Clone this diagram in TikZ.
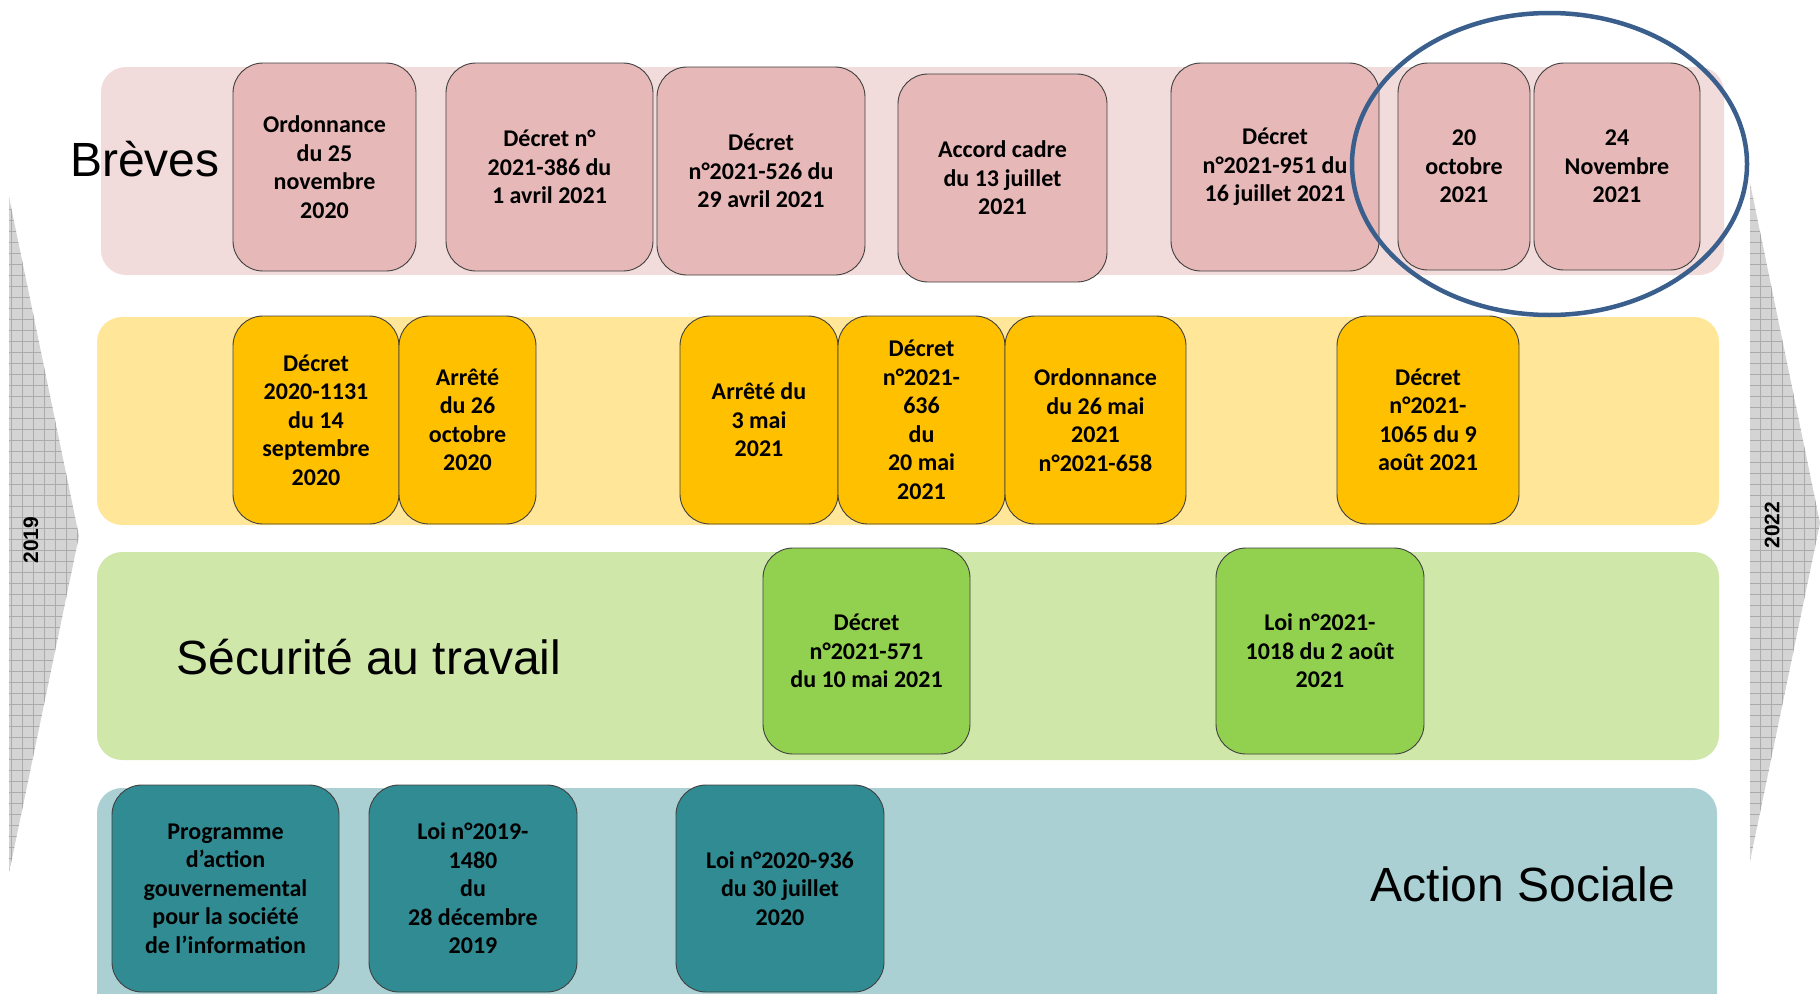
\documentclass[tikz,border=0pt]{standalone}
\usepackage{fontspec}
\usetikzlibrary{shapes.geometric}
\setmainfont{Carlito}
\newfontfamily\arialf{Liberation Sans}
\definecolor{cPinkLane}{HTML}{F2DCDB}
\definecolor{cPinkBox}{HTML}{E6B8B7}
\definecolor{cYelLane}{HTML}{FFE699}
\definecolor{cYelBox}{HTML}{FFC000}
\definecolor{cGrnLane}{HTML}{CFE8AA}
\definecolor{cGrnBox}{HTML}{92D050}
\definecolor{cTealLane}{HTML}{ABD0D3}
\definecolor{cTealBox}{HTML}{318B93}
\definecolor{cCircle}{HTML}{3A5F8C}
\definecolor{cBoxLine}{HTML}{404040}
\definecolor{cArrow}{HTML}{D4D4D4}
\definecolor{cGrid}{HTML}{ABABAB}
\begin{document}
\begin{tikzpicture}[x=1pt,y=-1pt,
  lane/.style={draw=none, rounded corners=25pt, inner sep=0pt},
  evt/.style={draw=cBoxLine, line width=0.9pt, rounded corners=30pt, align=center,
    inner sep=0pt, text=black, font=\bfseries\fontsize{24}{28.5}\selectfont},
  pinkevt/.style={evt, fill=cPinkBox},
  yelevt/.style={evt, fill=cYelBox},
  grnevt/.style={evt, fill=cGrnBox},
  tealevt/.style={evt, fill=cTealBox},
  lanetitle/.style={font=\arialf\fontsize{48}{56}\selectfont, inner sep=0pt},
  yearlabel/.style={font=\arialf\bfseries\fontsize{21}{25}\selectfont, rotate=90, inner sep=0pt},
  timearrow/.style={fill=cArrow, draw=none},
  gridline/.style={draw=cGrid, line width=0.4pt}
]
\useasboundingbox (0,0) rectangle (1820,993);
\clip (0,0) rectangle (1820,993);

% time arrows
\fill[timearrow] (9,197) -- (79,536) -- (9,873) -- cycle;
\begin{scope}
  \clip (9,197) -- (79,536) -- (9,873) -- cycle;
  \draw[gridline, step=11pt] (0,180) grid (90,880);
\end{scope}
\fill[timearrow] (1750,183) -- (1820,523) -- (1750,861) -- cycle;
\begin{scope}
  \clip (1750,183) -- (1820,523) -- (1750,861) -- cycle;
  \draw[gridline, step=11pt] (1740,170) grid (1830,870);
\end{scope}
\node[yearlabel] (y2019) at (31,540) {2019};
\node[yearlabel] (y2022) at (1772,525) {2022};

% lanes
\node[lane, fill=cPinkLane, minimum width=1623pt, minimum height=208pt] (laneA) at (912.5,171) {};
\node[lane, fill=cYelLane, minimum width=1622pt, minimum height=208pt] (laneB) at (908,421) {};
\node[lane, fill=cGrnLane, minimum width=1622pt, minimum height=208pt] (laneC) at (908,656) {};
\node[lane, fill=cTealLane, minimum width=1620pt, minimum height=240pt] (laneD) at (907,908) {};

% lane titles
\node[lanetitle] (tBreves) at (145,159) {Brèves};
\node[lanetitle] (tSecu) at (369,657) {Sécurité au travail};
\node[lanetitle] (tAction) at (1523,884) {Action Sociale};

% Brèves
\node[pinkevt, minimum width=183pt, minimum height=208pt] (p1) at (324.5,167) {Ordonnance\\du 25\\novembre\\2020};
\node[pinkevt, minimum width=207pt, minimum height=208pt] (p2) at (549.5,167) {Décret n°\\2021-386 du\\1 avril 2021};
\node[pinkevt, minimum width=208pt, minimum height=208pt] (p3) at (761,171) {Décret\\n°2021-526 du\\29 avril 2021};
\node[pinkevt, minimum width=209pt, minimum height=208pt] (p4) at (1002.5,178) {Accord cadre\\du 13 juillet\\2021};
\node[pinkevt, minimum width=208pt, minimum height=208pt] (p5) at (1275,167) {Décret\\n°2021-951 du\\16 juillet 2021};
\node[pinkevt, minimum width=132pt, minimum height=207pt] (p6) at (1464,166.5) {20\\octobre\\2021};
\node[pinkevt, minimum width=166pt, minimum height=207pt] (p7) at (1617,166.5) {24\\Novembre\\2021};

% yellow lane
\node[yelevt, minimum width=166pt, minimum height=208pt] (j1) at (316,420) {Décret\\2020-1131\\du 14\\septembre\\2020};
\node[yelevt, minimum width=137pt, minimum height=208pt] (j2) at (467.5,420) {Arrêté\\du 26\\octobre\\2020};
\node[yelevt, minimum width=158pt, minimum height=208pt] (j3) at (759,420) {Arrêté du\\3 mai\\2021};
\node[yelevt, minimum width=167pt, minimum height=208pt] (j4) at (921.5,420) {Décret\\n°2021-\\636\\du\\20 mai\\2021};
\node[yelevt, minimum width=181pt, minimum height=208pt] (j5) at (1095.5,420) {Ordonnance\\du 26 mai\\2021\\n°2021-658};
\node[yelevt, minimum width=182pt, minimum height=208pt] (j6) at (1428,420) {Décret\\n°2021-\\1065 du 9\\août 2021};

% green lane
\node[grnevt, minimum width=207pt, minimum height=206pt] (g1) at (866.5,651) {Décret\\n°2021-571\\du 10 mai 2021};
\node[grnevt, minimum width=208pt, minimum height=206pt] (g2) at (1320,651) {Loi n°2021-\\1018 du 2 août\\2021};

% teal lane
\node[tealevt, minimum width=227pt, minimum height=207pt] (t1) at (225.5,888.5) {Programme\\d’action\\gouvernemental\\pour la société\\de l’information};
\node[tealevt, minimum width=208pt, minimum height=207pt] (t2) at (473,888.5) {Loi n°2019-\\1480\\du\\28 décembre\\2019};
\node[tealevt, minimum width=208pt, minimum height=207pt] (t3) at (780,888.5) {Loi n°2020-936\\du 30 juillet\\2020};

% highlight ellipse
\node[draw=cCircle, line width=4.5pt, ellipse, minimum width=395pt, minimum height=302pt, inner sep=0pt] (hl) at (1549.5,164) {};
\end{tikzpicture}
\end{document}
